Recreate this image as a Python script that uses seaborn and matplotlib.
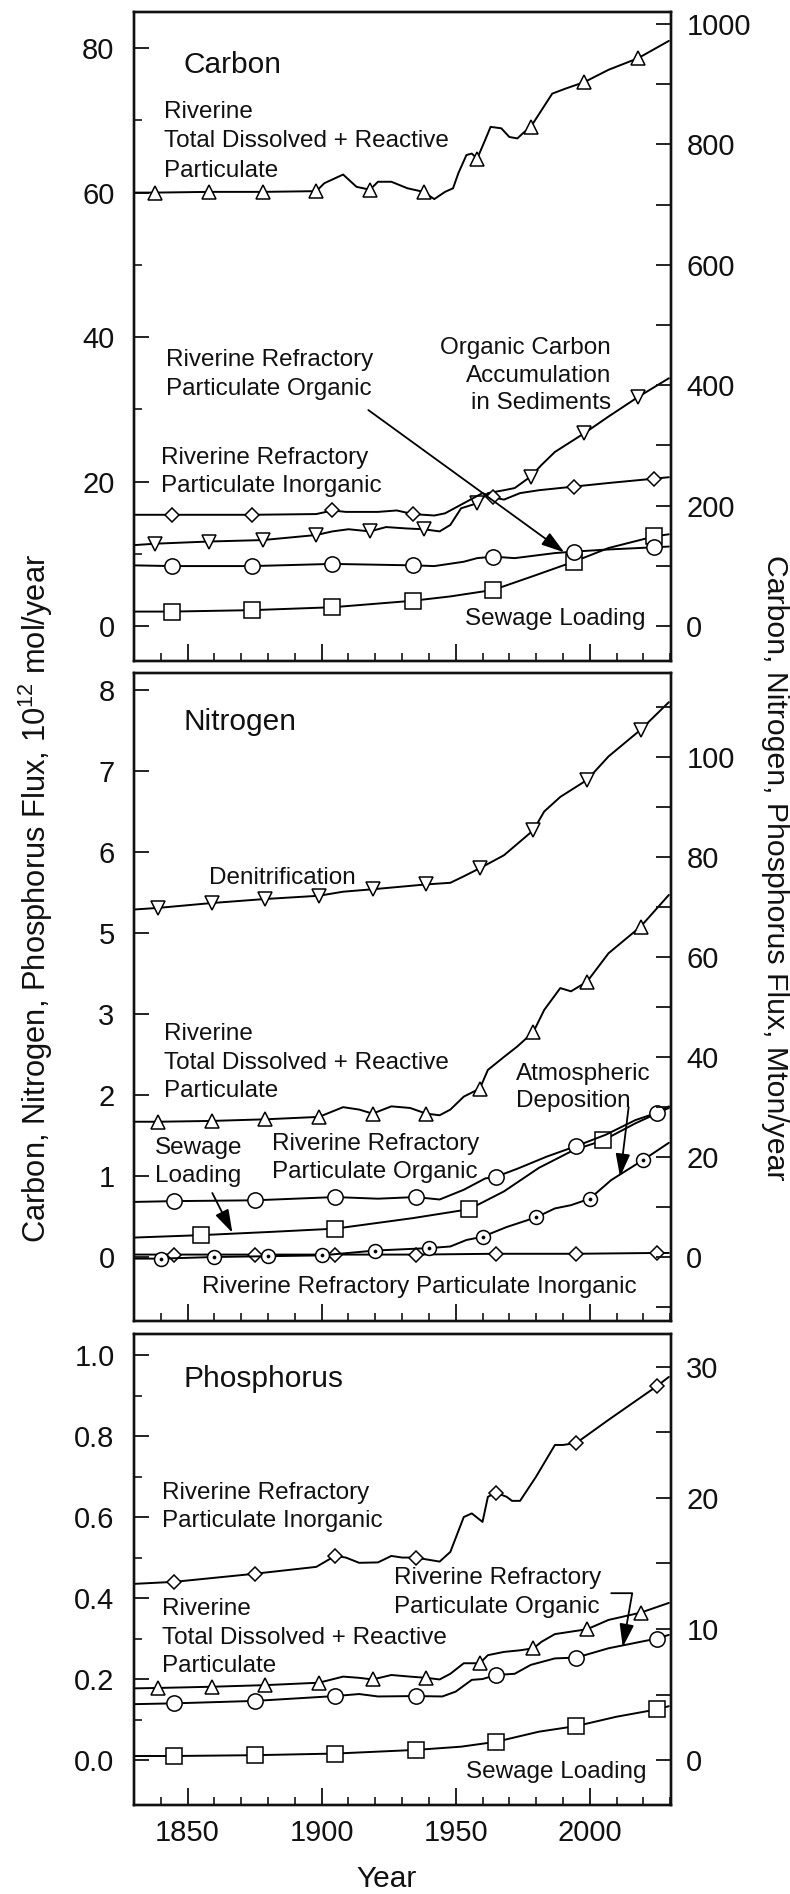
import matplotlib
matplotlib.use("Agg")
import matplotlib.pyplot as plt
import seaborn as sns
from matplotlib.ticker import FixedLocator, NullFormatter

# ================= DATA =================
# ---- Carbon (10^12 mol/yr) ----
c_tdrp_yr = [1830, 1838, 1858, 1878, 1898, 1901, 1908, 1913, 1918, 1921, 1926, 1932, 1938, 1942, 1946, 1949,
             1951, 1954, 1956, 1958, 1961, 1963, 1967, 1970, 1973, 1975, 1978, 1982, 1986, 1991, 1998, 2007,
             2018, 2029.5]
c_tdrp_val = [60.0, 60.0, 60.1, 60.1, 60.2, 61.3, 62.5, 60.8, 60.4, 61.5, 61.5, 60.6, 60.1, 59.1, 60.1, 60.6,
              62.7, 65.2, 65.4, 64.7, 67.3, 69.1, 68.9, 67.7, 67.5, 68.2, 69.1, 71.4, 73.7, 74.4, 75.3, 77.0,
              78.6, 81.0]
c_tdrp_mk = [1838, 1858, 1878, 1898, 1918, 1938, 1958, 1978, 1998, 2018]

c_rrpi_yr = [1830, 1844, 1874, 1898, 1904, 1909, 1921, 1928, 1934, 1942, 1946, 1953, 1960, 1964, 1968, 1974,
             1981, 1994, 2007, 2024, 2029.5]
c_rrpi_val = [15.4, 15.4, 15.4, 15.5, 16.0, 15.8, 15.8, 16.0, 15.5, 15.3, 15.6, 17.0, 18.4, 17.8, 17.5, 18.4,
              18.8, 19.3, 19.8, 20.4, 20.6]
c_rrpi_mk = [1844, 1874, 1904, 1934, 1964, 1994, 2024]

c_ocas_yr = [1830, 1838, 1858, 1878, 1898, 1904, 1910, 1918, 1924, 1932, 1938, 1944, 1948, 1952, 1958, 1962,
             1968, 1972, 1978, 1982, 1987, 1998, 2007, 2018, 2029.5]
c_ocas_val = [11.2, 11.4, 11.7, 11.9, 12.6, 13.1, 13.4, 13.1, 13.7, 13.5, 13.4, 13.1, 14.0, 16.3, 17.0, 18.4,
              18.8, 19.1, 20.7, 22.3, 24.1, 26.7, 29.0, 31.7, 34.3]
c_ocas_mk = [1838, 1858, 1878, 1898, 1918, 1938, 1958, 1978, 1998, 2018]

c_rrpo_yr = [1830, 1844, 1874, 1904, 1934, 1942, 1953, 1958, 1964, 1972, 1987, 1994, 2007, 2024, 2029.5]
c_rrpo_val = [8.4, 8.3, 8.3, 8.6, 8.4, 8.3, 8.9, 9.4, 9.6, 9.4, 10.1, 10.3, 10.6, 10.9, 11.0]
c_rrpo_mk = [1844, 1874, 1904, 1934, 1964, 1994, 2024]

c_sew_yr = [1830, 1844, 1874, 1904, 1934, 1948, 1964, 1978, 1994, 2007, 2024, 2029.5]
c_sew_val = [2.0, 2.0, 2.2, 2.6, 3.5, 4.1, 5.0, 6.8, 8.9, 10.8, 12.4, 12.7]
c_sew_mk = [1844, 1874, 1904, 1934, 1964, 1994, 2024]

# ---- Nitrogen (plotted on the printed axis scale) ----
n_den_yr = [1830, 1839, 1859, 1879, 1899, 1908, 1919, 1939, 1948, 1953, 1959, 1968, 1979, 1983, 1989, 1999,
            2007, 2019, 2029.5]
n_den_val = [4.29, 4.31, 4.37, 4.42, 4.46, 4.51, 4.54, 4.60, 4.62, 4.70, 4.80, 4.96, 5.27, 5.50, 5.68, 5.89,
             6.18, 6.51, 6.85]
n_den_mk = [1839, 1859, 1879, 1899, 1919, 1939, 1959, 1979, 1999, 2019]

n_tdrp_yr = [1830, 1839, 1859, 1879, 1899, 1908, 1914, 1919, 1926, 1933, 1939, 1944, 1948, 1953, 1959, 1962,
             1968, 1973, 1979, 1983, 1989, 1993, 1999, 2007, 2019, 2029.5]
n_tdrp_val = [1.67, 1.67, 1.68, 1.70, 1.73, 1.85, 1.82, 1.77, 1.86, 1.84, 1.77, 1.75, 1.82, 1.98, 2.08, 2.31,
              2.47, 2.60, 2.78, 3.05, 3.32, 3.28, 3.40, 3.75, 4.08, 4.47]
n_tdrp_mk = [1839, 1859, 1879, 1899, 1919, 1939, 1959, 1979, 1999, 2019]

n_rrpo_yr = [1830, 1845, 1875, 1905, 1921, 1935, 1944, 1953, 1961, 1965, 1973, 1984, 1995, 2006, 2017, 2025,
             2029.5]
n_rrpo_val = [0.68, 0.69, 0.70, 0.74, 0.72, 0.74, 0.71, 0.83, 0.97, 0.99, 1.09, 1.24, 1.37, 1.51, 1.69, 1.78,
              1.86]
n_rrpo_mk = [1845, 1875, 1905, 1935, 1965, 1995, 2025]

n_sew_yr = [1830, 1855, 1881, 1905, 1934, 1955, 1968, 1981, 1994, 2005, 2017, 2029.5]
n_sew_val = [0.24, 0.27, 0.31, 0.35, 0.48, 0.59, 0.81, 1.10, 1.32, 1.44, 1.65, 1.84]
n_sew_mk = [1855, 1905, 1955, 2005]

n_atm_yr = [1830, 1840, 1860, 1880, 1900, 1920, 1940, 1948, 1954, 1960, 1969, 1980, 1987, 1993, 2000, 2008,
            2020, 2029.5]
n_atm_val = [-0.02, -0.02, 0.0, 0.01, 0.02, 0.08, 0.11, 0.13, 0.21, 0.25, 0.37, 0.49, 0.60, 0.64, 0.72, 0.95,
             1.20, 1.41]
n_atm_mk = [1840, 1860, 1880, 1900, 1920, 1940, 1960, 1980, 2000, 2020]

n_rrpi_yr = [1830, 1845, 1875, 1905, 1935, 1965, 1995, 2025, 2029.5]
n_rrpi_val = [0.03, 0.03, 0.03, 0.03, 0.03, 0.04, 0.04, 0.05, 0.05]
n_rrpi_mk = [1845, 1875, 1905, 1935, 1965, 1995, 2025]

# ---- Phosphorus (10^12 mol/yr) ----
p_rrpi_yr = [1830, 1845, 1875, 1898, 1905, 1909, 1914, 1921, 1926, 1930, 1935, 1944, 1948, 1953, 1956, 1960,
             1962, 1965, 1969, 1971, 1974, 1980, 1987, 1990, 1995, 2007, 2025, 2029.5]
p_rrpi_val = [0.435, 0.44, 0.46, 0.477, 0.504, 0.50, 0.487, 0.488, 0.504, 0.50, 0.50, 0.49, 0.514, 0.60, 0.609,
              0.588, 0.65, 0.66, 0.65, 0.64, 0.64, 0.70, 0.778, 0.778, 0.783, 0.84, 0.923, 0.946]
p_rrpi_mk = [1845, 1875, 1905, 1935, 1965, 1995, 2025]

p_tdrp_yr = [1830, 1839, 1859, 1879, 1899, 1908, 1914, 1919, 1926, 1933, 1939, 1944, 1948, 1953, 1959, 1962,
             1968, 1974, 1979, 1982, 1987, 1993, 1999, 2007, 2019, 2029.5]
p_tdrp_val = [0.177, 0.178, 0.181, 0.185, 0.191, 0.206, 0.203, 0.199, 0.21, 0.206, 0.203, 0.199, 0.213, 0.239,
              0.239, 0.259, 0.267, 0.271, 0.276, 0.292, 0.311, 0.317, 0.323, 0.346, 0.364, 0.388]
p_tdrp_mk = [1839, 1859, 1879, 1899, 1919, 1939, 1959, 1979, 1999, 2019]

p_rrpo_yr = [1830, 1845, 1875, 1905, 1914, 1921, 1935, 1945, 1950, 1956, 1960, 1965, 1972, 1978, 1987, 1995,
             2007, 2025, 2029.5]
p_rrpo_val = [0.138, 0.14, 0.146, 0.158, 0.163, 0.157, 0.158, 0.157, 0.169, 0.198, 0.20, 0.21, 0.213, 0.235,
              0.251, 0.253, 0.276, 0.30, 0.309]
p_rrpo_mk = [1845, 1875, 1905, 1935, 1965, 1995, 2025]

p_sew_yr = [1830, 1845, 1875, 1905, 1935, 1952, 1965, 1981, 1995, 2010, 2025, 2029.5]
p_sew_val = [0.01, 0.01, 0.012, 0.016, 0.025, 0.033, 0.045, 0.07, 0.084, 0.107, 0.125, 0.133]
p_sew_mk = [1845, 1875, 1905, 1935, 1965, 1995, 2025]

# ---- axes ticks / labels ----
x_major = [1850, 1900, 1950, 2000]
x_minor = [1840, 1860, 1870, 1880, 1890, 1910, 1920, 1930, 1940, 1960, 1970, 1980, 1990, 2010, 2020, 2030]
c_left_major = [0, 20, 40, 60, 80]
c_left_minor = [10, 30, 50, 70]
c_right_major = [0, 200, 400, 600, 800, 1000]
c_right_minor = [100, 300, 500, 700, 900]
n_left_major = [0, 1, 2, 3, 4, 5, 6, 7]
n_left_labels = ['0', '1', '2', '3', '5', '6', '7', '8']
n_right_major = [0, 20, 40, 60, 80, 100]
n_right_minor = [-10, 10, 30, 50, 70, 90, 110]
p_left_major = [0.0, 0.2, 0.4, 0.6, 0.8, 1.0]
p_left_minor = [0.1, 0.3, 0.5, 0.7, 0.9]
p_right_major = [0, 10, 20, 30]
p_right_minor = [5, 15, 25]

# ================= STYLE =================
sns.set_style("ticks")
plt.rcParams['font.family'] = ['Liberation Sans', 'DejaVu Sans']
plt.rcParams['mathtext.fontset'] = 'custom'
plt.rcParams['mathtext.rm'] = 'Liberation Sans'
plt.rcParams['mathtext.it'] = 'Liberation Sans'

TXT = '#111111'
TICK_FS = 21
ANN_FS = 17.5
TITLE_FS = 21.5
LW = 1.4

W, H = 790, 1894
fig = plt.figure(figsize=(W / 100, H / 100), dpi=100)
fig.patch.set_facecolor('white')


def box(x0, y0, x1, y1):
    return [x0 / W, 1 - y1 / H, (x1 - x0) / W, (y1 - y0) / H]


ax_c = fig.add_axes(box(134, 12, 671, 661))
ax_n = fig.add_axes(box(134, 673, 671, 1321))
ax_p = fig.add_axes(box(134, 1334, 671, 1805))


def draw(ax, yrs, vals, mk, marker, ms, dot=False):
    mask = [y in mk for y in yrs]
    sns.lineplot(x=yrs, y=vals, ax=ax, color='black', lw=LW, marker=marker, markevery=mask,
                 markersize=ms, markerfacecolor='white', markeredgecolor='black',
                 markeredgewidth=1.1, estimator=None, sort=False)
    if dot:
        sns.lineplot(x=yrs, y=vals, ax=ax, color='black', lw=0, marker='o', markevery=mask,
                     markersize=2.2, markerfacecolor='black', markeredgecolor='black',
                     markeredgewidth=0.5, estimator=None, sort=False)


# Carbon
draw(ax_c, c_tdrp_yr, c_tdrp_val, c_tdrp_mk, '^', 10.5)
draw(ax_c, c_sew_yr, c_sew_val, c_sew_mk, 's', 11)
draw(ax_c, c_rrpo_yr, c_rrpo_val, c_rrpo_mk, 'o', 11)
draw(ax_c, c_ocas_yr, c_ocas_val, c_ocas_mk, 'v', 10.5)
draw(ax_c, c_rrpi_yr, c_rrpi_val, c_rrpi_mk, 'D', 6.8)

# Nitrogen
draw(ax_n, n_den_yr, n_den_val, n_den_mk, 'v', 10.5)
draw(ax_n, n_tdrp_yr, n_tdrp_val, n_tdrp_mk, '^', 10.5)
draw(ax_n, n_sew_yr, n_sew_val, n_sew_mk, 's', 11)
draw(ax_n, n_rrpo_yr, n_rrpo_val, n_rrpo_mk, 'o', 11)
draw(ax_n, n_rrpi_yr, n_rrpi_val, n_rrpi_mk, 'D', 6.8)
draw(ax_n, n_atm_yr, n_atm_val, n_atm_mk, 'o', 10, dot=True)

# Phosphorus
draw(ax_p, p_rrpi_yr, p_rrpi_val, p_rrpi_mk, 'D', 6.8)
draw(ax_p, p_sew_yr, p_sew_val, p_sew_mk, 's', 11)
draw(ax_p, p_tdrp_yr, p_tdrp_val, p_tdrp_mk, '^', 10.5)
draw(ax_p, p_rrpo_yr, p_rrpo_val, p_rrpo_mk, 'o', 11)

# ================= AXES =================
panels = [
    (ax_c, (-4.84, 85.0), 12.0, c_left_major, [str(v) for v in c_left_major], c_left_minor,
     c_right_major, c_right_minor),
    (ax_n, (-0.79, 7.21), 16.2, n_left_major, n_left_labels, [], n_right_major, n_right_minor),
    (ax_p, (-0.111, 1.052), 30.9, p_left_major, ['%.1f' % v for v in p_left_major], p_left_minor,
     p_right_major, p_right_minor),
]

for i, (ax, ylim, fac, lmaj, llab, lmin, rmaj, rmin) in enumerate(panels):
    ax.set_xlim(1830, 2030.3)
    ax.set_ylim(*ylim)
    ax.set_xlabel('')
    ax.set_ylabel('')
    for sp in ax.spines.values():
        sp.set_visible(True)
        sp.set_linewidth(1.7)
        sp.set_color('#111111')
    ax.xaxis.set_major_locator(FixedLocator(x_major))
    ax.xaxis.set_minor_locator(FixedLocator(x_minor))
    ax.yaxis.set_major_locator(FixedLocator(lmaj))
    ax.yaxis.set_minor_locator(FixedLocator(lmin))
    ax.set_yticklabels(llab)
    ax.tick_params(axis='x', which='major', direction='in', length=12, width=1.3, bottom=True, top=False,
                   labelbottom=(i == 2), labelsize=TICK_FS, pad=10, colors=TXT)
    ax.tick_params(axis='x', which='minor', direction='in', length=6, width=1.3, bottom=True, top=False)
    ax.tick_params(axis='y', which='major', direction='in', length=11, width=1.3, left=True, right=False,
                   labelsize=TICK_FS, pad=14, colors=TXT)
    ax.tick_params(axis='y', which='minor', direction='in', length=6, width=1.3, left=True, right=False)

    tw = ax.twinx()
    tw.set_ylim(ylim[0] * fac, ylim[1] * fac)
    tw.yaxis.set_major_locator(FixedLocator(rmaj))
    tw.yaxis.set_minor_locator(FixedLocator(rmin))
    tw.yaxis.set_minor_formatter(NullFormatter())
    tw.set_yticklabels([str(v) for v in rmaj])
    tw.tick_params(axis='y', which='both', direction='in', length=11, width=1.3, right=True, left=False,
                   labelsize=TICK_FS, pad=11, colors=TXT)
    for sp in tw.spines.values():
        sp.set_linewidth(1.7)
        sp.set_color('#111111')


# ================= ANNOTATIONS =================
def lines(ax, x, ys, texts, ha='left', fs=ANN_FS):
    for y, t in zip(ys, texts):
        ax.text(x, y, t, ha=ha, va='baseline', fontsize=fs, color=TXT)


arrow = dict(arrowstyle='-|>,head_length=0.7,head_width=0.22', color='black', lw=1.3,
             shrinkA=0, shrinkB=0, mutation_scale=20)

# Carbon
ax_c.text(1848.6, 76.6, 'Carbon', fontsize=TITLE_FS, ha='left', va='baseline', color=TXT)
lines(ax_c, 1841.2, [70.3, 66.3, 62.2], ['Riverine', 'Total Dissolved + Reactive', 'Particulate'])
lines(ax_c, 1841.9, [36.0, 32.0], ['Riverine Refractory', 'Particulate Organic'])
lines(ax_c, 2007.9, [37.6, 33.8, 30.1], ['Organic Carbon', 'Accumulation', 'in Sediments'], ha='right')
lines(ax_c, 1839.9, [22.4, 18.6], ['Riverine Refractory', 'Particulate Inorganic'])
lines(ax_c, 2020.7, [0.14], ['Sewage Loading'], ha='right')
ax_c.annotate('', xy=(1990.5, 10.2), xytext=(1917.4, 29.9), arrowprops=arrow)

# Nitrogen
ax_n.text(1848.6, 6.51, 'Nitrogen', fontsize=TITLE_FS, ha='left', va='baseline', color=TXT)
lines(ax_n, 1858.1, [4.60], ['Denitrification'])
lines(ax_n, 1841.2, [2.68, 2.32, 1.97], ['Riverine', 'Total Dissolved + Reactive', 'Particulate'])
lines(ax_n, 1837.9, [1.27, 0.93], ['Sewage', 'Loading'])
lines(ax_n, 1881.4, [1.32, 0.98], ['Riverine Refractory', 'Particulate Organic'])
lines(ax_n, 1972.5, [2.19, 1.85], ['Atmospheric', 'Deposition'])
lines(ax_n, 1855.3, [-0.45], ['Riverine Refractory Particulate Inorganic'])
ax_n.annotate('', xy=(1866.7, 0.30), xytext=(1859.2, 0.79), arrowprops=arrow)
ax_n.annotate('', xy=(2011.3, 0.99), xytext=(2014.5, 1.85), arrowprops=arrow)

# Phosphorus
ax_p.text(1848.6, 0.920, 'Phosphorus', fontsize=TITLE_FS, ha='left', va='baseline', color=TXT)
lines(ax_p, 1840.5, [0.644, 0.576], ['Riverine Refractory', 'Particulate Inorganic'])
lines(ax_p, 1840.5, [0.358, 0.286, 0.218], ['Riverine', 'Total Dissolved + Reactive', 'Particulate'])
lines(ax_p, 1926.9, [0.435, 0.364], ['Riverine Refractory', 'Particulate Organic'])
lines(ax_p, 2021.2, [-0.045], ['Sewage Loading'], ha='right')
bent = dict(arrow)
bent['connectionstyle'] = 'angle,angleA=0,angleB=80,rad=0'
ax_p.annotate('', xy=(2012.3, 0.279), xytext=(2008.0, 0.412), arrowprops=bent)

# Axis titles
fig.text(387 / W, 1 - 1879 / H, 'Year', ha='center', va='center', fontsize=21.5, color=TXT)
fig.text(36 / W, 1 - 898 / H, r'Carbon, Nitrogen, Phosphorus Flux, 10$^{12}$ mol/year',
         rotation=90, ha='center', va='center', fontsize=22.2, color=TXT)
fig.text(775 / W, 1 - 868 / H, 'Carbon, Nitrogen, Phosphorus Flux, Mton/year',
         rotation=270, ha='center', va='center', fontsize=21.8, color=TXT)

fig.savefig('out.png', dpi=100, facecolor='white')
